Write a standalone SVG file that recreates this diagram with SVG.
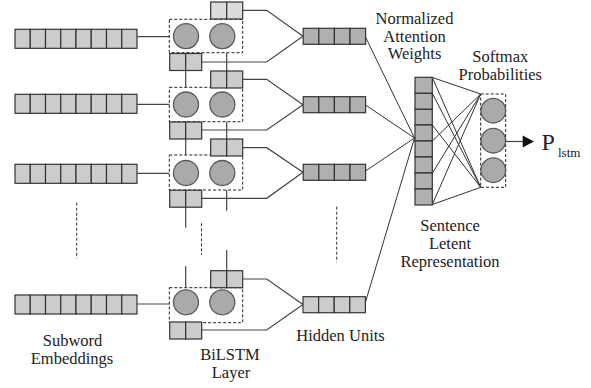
<svg xmlns="http://www.w3.org/2000/svg" xmlns:xlink="http://www.w3.org/1999/xlink" width="591" height="388" viewBox="0 0 591 388">
<style>
.cell{fill:#cccccc;stroke:#333;stroke-width:1.2}
.cellL{fill:#dcdcdc;stroke:#333;stroke-width:1.2}
.cellD{fill:#b0b0b0;stroke:#333;stroke-width:1.2}
.neu{fill:#aaaaaa;stroke:#5a5a5a;stroke-width:1.3}
.dbox{fill:none;stroke:#222;stroke-width:1;stroke-dasharray:3,2}
.ln{fill:none;stroke:#444;stroke-width:1.2}
.thin{fill:none;stroke:#333;stroke-width:1}
.dot{fill:none;stroke:#333;stroke-width:1;stroke-dasharray:3,2}
text{font-family:'Liberation Serif','Times New Roman',serif;font-size:16.5px;fill:#222;text-anchor:middle}
</style>
<defs>
<g id="emb">
<rect class="cell" x="0" y="0" width="15.25" height="19"/><rect class="cell" x="15.25" y="0" width="15.25" height="19"/><rect class="cell" x="30.5" y="0" width="15.25" height="19"/><rect class="cell" x="45.75" y="0" width="15.25" height="19"/><rect class="cell" x="61" y="0" width="15.25" height="19"/><rect class="cell" x="76.25" y="0" width="15.25" height="19"/><rect class="cell" x="91.5" y="0" width="15.25" height="19"/><rect class="cell" x="106.75" y="0" width="15.25" height="19"/>
</g>
<g id="hidD">
<rect class="cellD" x="0" y="0" width="15.6" height="16"/><rect class="cellD" x="15.6" y="0" width="15.6" height="16"/><rect class="cellD" x="31.2" y="0" width="15.6" height="16"/><rect class="cellD" x="46.8" y="0" width="15.6" height="16"/>
</g>
<g id="hidL">
<rect class="cell" x="0" y="0" width="15.6" height="16"/><rect class="cell" x="15.6" y="0" width="15.6" height="16"/><rect class="cell" x="31.2" y="0" width="15.6" height="16"/><rect class="cell" x="46.8" y="0" width="15.6" height="16"/>
</g>
<g id="pair">
<rect class="cell" x="0" y="0" width="16" height="17"/><rect class="cell" x="16" y="0" width="16" height="17"/>
</g>
<g id="pairL">
<rect class="cellL" x="0" y="0" width="16" height="17"/><rect class="cellL" x="16" y="0" width="16" height="17"/>
</g>
</defs>

<g id="connectors">
<path class="ln" d="M137,36.7H169.3M137,104.3H169.3M137,173.3H169.3M137,304H169.3"/>
<path class="ln" d="M242.7,10.3H266.7L303,36.3M201.7,62H266.7L303,36.3"/>
<path class="ln" d="M242.7,79.3H266.7L303,104.7M201.7,130H266.7L303,104.7"/>
<path class="ln" d="M242.7,147.7H266.7L303,172.2M201.7,198.3H266.7L303,172.2"/>
<path class="ln" d="M242.7,279H266.7L303,304.5M201.7,330H266.7L303,304.5"/>
<path class="ln" d="M185.7,71V87.3M185.7,139V155M185.7,207.3V227.7M185.7,266V287.7"/>
<path class="ln" d="M226.7,52.7V71M226.7,121.7V139M226.7,190V210.7M226.7,250V270.7"/>
<path class="dot" d="M76.7,202.7V258.3M201.5,223.3V255M336.7,206.7V262.3"/>
<path class="thin" d="M365.5,37L414.5,138M365.5,105L414.5,138M365.5,171L414.5,138M365.5,302L414.5,138"/>
<path class="thin" d="M432.3,77.5L480.7,94M432.3,77.5L480.7,187.3M432.3,93.3L480.7,187.3M432.3,125L480.7,187.3M432.3,141L480.7,94M432.3,173.3L480.7,94M432.3,204.5L480.7,94M432.3,204.5L480.7,187.3"/>
<path class="ln" d="M505.7,141.5H524" stroke="#111"/>
<polygon points="522.7,135.5 534,141.5 522.7,147.5" fill="#111"/>
</g>

<g id="emb1"><use xlink:href="#emb" href="#emb" x="15" y="29.3"/></g>
<g id="emb2"><use xlink:href="#emb" href="#emb" x="15" y="94.3"/></g>
<g id="emb3"><use xlink:href="#emb" href="#emb" x="15" y="164.3"/></g>
<g id="emb4"><use xlink:href="#emb" href="#emb" x="15" y="295"/></g>

<g id="lstm1">
<rect class="dbox" x="169.3" y="19.3" width="73.4" height="33.4"/>
<circle class="neu" cx="186" cy="36.2" r="12.5"/><circle class="neu" cx="222.3" cy="36.2" r="12.5"/>
<use xlink:href="#pairL" href="#pairL" x="210.7" y="2"/>
<use xlink:href="#pair" href="#pair" x="169.7" y="53.5"/>
</g>
<g id="lstm2">
<rect class="dbox" x="169.3" y="87.3" width="73.4" height="34.4"/>
<circle class="neu" cx="186" cy="104.5" r="12.5"/><circle class="neu" cx="222.3" cy="104.5" r="12.5"/>
<use xlink:href="#pair" href="#pair" x="210.7" y="71"/>
<use xlink:href="#pair" href="#pair" x="169.7" y="122"/>
</g>
<g id="lstm3">
<rect class="dbox" x="169.3" y="155" width="73.4" height="35"/>
<circle class="neu" cx="186" cy="173" r="12.5"/><circle class="neu" cx="222.3" cy="173" r="12.5"/>
<use xlink:href="#pair" href="#pair" x="210.7" y="139"/>
<use xlink:href="#pair" href="#pair" x="169.7" y="190.2"/>
</g>
<g id="lstm4">
<rect class="dbox" x="169.3" y="287.7" width="73.4" height="35"/>
<circle class="neu" cx="186" cy="302.3" r="12.5"/><circle class="neu" cx="222.3" cy="302.3" r="12.5"/>
<use xlink:href="#pair" href="#pair" x="210.7" y="270.7"/>
<use xlink:href="#pair" href="#pair" x="169.7" y="322"/>
</g>

<g id="hid1"><use xlink:href="#hidD" href="#hidD" x="303.2" y="28.3"/></g>
<g id="hid2"><use xlink:href="#hidD" href="#hidD" x="303.2" y="96.7"/></g>
<g id="hid3"><use xlink:href="#hidD" href="#hidD" x="303.2" y="164.3"/></g>
<g id="hid4"><use xlink:href="#hidL" href="#hidL" x="303" y="296.7"/></g>

<g id="sentence">
<rect class="cellD" x="415" y="77.3" width="17.3" height="16"/>
<rect class="cellD" x="415" y="93.3" width="17.3" height="16"/>
<rect class="cellD" x="415" y="109.3" width="17.3" height="15.7"/>
<rect class="cellD" x="415" y="125" width="17.3" height="16"/>
<rect class="cellD" x="415" y="141" width="17.3" height="16"/>
<rect class="cellD" x="415" y="157" width="17.3" height="16"/>
<rect class="cellD" x="415" y="173" width="17.3" height="16"/>
<rect class="cellD" x="415" y="189" width="17.3" height="16"/>
</g>

<g id="softmax">
<rect class="dbox" x="480.7" y="94" width="25" height="93.3"/>
<circle class="neu" cx="493.3" cy="110.7" r="12.3"/>
<circle class="neu" cx="493.3" cy="140.7" r="12.3"/>
<circle class="neu" cx="493.3" cy="170.2" r="12.3"/>
</g>

<g id="output">
<text x="541.5" y="149.5" style="text-anchor:start;font-size:24px">P</text>
<text x="558" y="156.7" style="text-anchor:start;font-size:13px">lstm</text>
</g>

<g id="labels">
<text x="414.5" y="23.5">Normalized</text>
<text x="414.5" y="41.5">Attention</text>
<text x="414.5" y="59.3">Weights</text>
<text x="500.3" y="62">Softmax</text>
<text x="500.3" y="79.8">Probabilities</text>
<text x="450" y="231">Sentence</text>
<text x="450" y="249">Letent</text>
<text x="450" y="267">Representation</text>
<text x="340.5" y="340.7">Hidden Units</text>
<text x="72.5" y="346.2">Subword</text>
<text x="72" y="364.4">Embeddings</text>
<text x="230" y="359.6">BiLSTM</text>
<text x="231" y="377.6">Layer</text>
</g>
</svg>
